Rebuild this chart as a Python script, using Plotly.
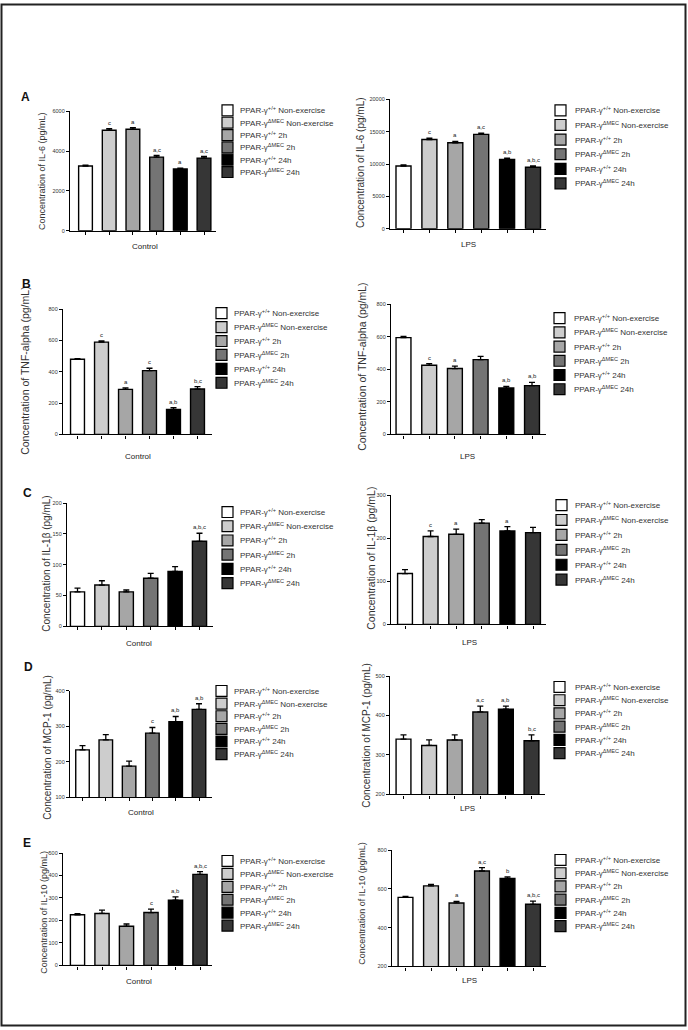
import plotly.graph_objects as go

W, H = 688, 1030

# ---------------- data ----------------
categories = ["+/+ Non-exercise", "ΔMEC Non-exercise", "+/+ 2h", "ΔMEC 2h", "+/+ 24h", "ΔMEC 24h"]
legend_labels = [
    "PPAR-γ<sup>+/+</sup> Non-exercise",
    "PPAR-γ<sup>ΔMEC</sup> Non-exercise",
    "PPAR-γ<sup>+/+</sup> 2h",
    "PPAR-γ<sup>ΔMEC</sup> 2h",
    "PPAR-γ<sup>+/+</sup> 24h",
    "PPAR-γ<sup>ΔMEC</sup> 24h",
]
bar_colors = ["#ffffff", "#cdcdcd", "#a6a6a6", "#747474", "#000000", "#363636"]

il6_ctrl = [3250, 5050, 5100, 3700, 3100, 3650]
il6_ctrl_err = [40, 80, 80, 80, 40, 80]
il6_ctrl_sig = ["", "c", "a", "a,c", "a", "a,c"]
il6_lps = [9700, 13800, 13300, 14600, 10700, 9500]
il6_lps_err = [150, 200, 200, 200, 200, 200]
il6_lps_sig = ["", "c", "a", "a,c", "a,b", "a,b,c"]

tnf_ctrl = [480, 590, 288, 408, 160, 290]
tnf_ctrl_err = [5, 8, 10, 15, 12, 15]
tnf_ctrl_sig = ["", "c", "a", "c", "a,b", "b,c"]
tnf_lps = [595, 425, 405, 460, 285, 300]
tnf_lps_err = [8, 10, 15, 20, 10, 20]
tnf_lps_sig = ["", "c", "a", "", "a,b", "a,b"]

il1b_ctrl = [56, 67, 56, 78, 89, 138]
il1b_ctrl_err = [6, 7, 3, 8, 8, 13]
il1b_ctrl_sig = ["", "", "", "", "", "a,b,c"]
il1b_lps = [118, 204, 209, 235, 217, 213]
il1b_lps_err = [9, 13, 12, 8, 10, 12]
il1b_lps_sig = ["", "c", "a", "", "a", ""]

mcp1_ctrl = [234, 262, 188, 281, 313, 348]
mcp1_ctrl_err = [12, 15, 14, 16, 15, 16]
mcp1_ctrl_sig = ["", "", "", "c", "a,b", "a,b"]
mcp1_lps = [340, 324, 338, 409, 416, 336]
mcp1_lps_err = [11, 14, 13, 15, 8, 15]
mcp1_lps_sig = ["", "", "", "a,c", "a,b", "b,c"]

il10_ctrl = [225, 231, 174, 235, 290, 405]
il10_ctrl_err = [5, 15, 10, 15, 15, 12]
il10_ctrl_sig = ["", "", "", "c", "a,b", "a,b,c"]
il10_lps = [556, 615, 527, 692, 654, 520]
il10_lps_err = [5, 8, 8, 17, 8, 17]
il10_lps_sig = ["", "", "a", "a,c", "b", "a,b,c"]

panel_letters = ["A", "B", "C", "D", "E"]
y_titles = [
    "Concentration of IL-6 (pg/mL)",
    "Concentration of TNF-alpha (pg/mL)",
    "Concentration of IL-1β (pg/mL)",
    "Concentration of MCP-1 (pg/mL)",
    "Concentration of IL-10 (pg/mL)",
]

# ---------------- panel layout (pixels) ----------------
panels = [
    dict(v=il6_ctrl, e=il6_ctrl_err, s=il6_ctrl_sig, row=0, grp="Control", yr=[0, 6000], dt=2000,
         axL=70, axR=216, c0=85.5, c5=204, yt=109, yb=229, tx=42, ty=169, tf=9,
         lx=222, ly0=108, lsp=12.4, ltx=238, gy=245),
    dict(v=il6_lps, e=il6_lps_err, s=il6_lps_sig, row=0, grp="LPS", yr=[0, 20000], dt=5000,
         axL=390, axR=546, c0=403.5, c5=533, yt=97, yb=227, tx=360, ty=161, tf=10,
         lx=555, ly0=108, lsp=14.7, ltx=573, gy=243),
    dict(v=tnf_ctrl, e=tnf_ctrl_err, s=tnf_ctrl_sig, row=1, grp="Control", yr=[0, 800], dt=200,
         axL=63, axR=212, c0=77.5, c5=197.5, yt=308, yb=434, tx=25, ty=370, tf=10.5,
         lx=216, ly0=312, lsp=14, ltx=232, gy=456),
    dict(v=tnf_lps, e=tnf_lps_err, s=tnf_lps_sig, row=1, grp="LPS", yr=[0, 800], dt=200,
         axL=391, axR=546, c0=403.5, c5=532, yt=303, yb=434, tx=362, ty=366, tf=10.5,
         lx=554, ly0=317, lsp=14.3, ltx=572, gy=456),
    dict(v=il1b_ctrl, e=il1b_ctrl_err, s=il1b_ctrl_sig, row=2, grp="Control", yr=[0, 200], dt=50,
         axL=67, axR=213, c0=77.5, c5=199.5, yt=503, yb=627, tx=47, ty=564, tf=10,
         lx=222, ly0=512, lsp=14.3, ltx=238, gy=644),
    dict(v=il1b_lps, e=il1b_lps_err, s=il1b_lps_sig, row=2, grp="LPS", yr=[0, 300], dt=100,
         axL=391, axR=546, c0=405, c5=533, yt=495, yb=625, tx=371, ty=559, tf=10.5,
         lx=556, ly0=505, lsp=15, ltx=573, gy=643),
    dict(v=mcp1_ctrl, e=mcp1_ctrl_err, s=mcp1_ctrl_sig, row=3, grp="Control", yr=[100, 400], dt=100,
         axL=70, axR=212, c0=82.5, c5=199, yt=692, yb=799, tx=48, ty=749, tf=10,
         lx=216, ly0=692, lsp=12.7, ltx=232, gy=814),
    dict(v=mcp1_lps, e=mcp1_lps_err, s=mcp1_lps_sig, row=3, grp="LPS", yr=[200, 500], dt=100,
         axL=390, axR=545, c0=403.5, c5=531.5, yt=677, yb=796, tx=367, ty=736, tf=10,
         lx=554, ly0=688, lsp=13.3, ltx=573, gy=810),
    dict(v=il10_ctrl, e=il10_ctrl_err, s=il10_ctrl_sig, row=4, grp="Control", yr=[0, 500], dt=100,
         axL=63, axR=212, c0=77.5, c5=200, yt=855, yb=968, tx=44, ty=915, tf=9,
         lx=222, ly0=863, lsp=13, ltx=238, gy=984),
    dict(v=il10_lps, e=il10_lps_err, s=il10_lps_sig, row=4, grp="LPS", yr=[200, 800], dt=200,
         axL=392, axR=546, c0=405.5, c5=533, yt=852, yb=969, tx=362, ty=906, tf=9,
         lx=555, ly0=862, lsp=13.3, ltx=573, gy=983),
]
letter_pos = [(25, 95), (26, 283), (27, 493), (28, 668), (27, 845)]

FONT = "Liberation Sans, Arial, sans-serif"
fig = go.Figure()
annotations = []
shapes = []
layout_axes = {}

def px(x):
    return x / W

def py(y):
    return 1 - y / H

for i, p in enumerate(panels):
    n = "" if i == 0 else str(i + 1)
    xref, yref = "x" + n, "y" + n
    s = (p["c5"] - p["c0"]) / 5.0
    xr = [(p["axL"] - p["c0"]) / s, (p["axR"] - p["c0"]) / s]
    fig.add_trace(go.Bar(
        x=categories, y=p["v"], xaxis=xref, yaxis=yref, width=0.58,
        marker=dict(color=bar_colors, line=dict(color="black", width=1.4)),
        error_y=dict(type="data", array=p["e"], arrayminus=[0] * 6, symmetric=False,
                     color="black", thickness=1.3, width=3),
        showlegend=False,
    ))
    layout_axes["xaxis" + n] = dict(
        domain=[px(p["axL"]), px(p["axR"])], anchor=yref, range=xr, type="category",
        showline=True, linecolor="black", linewidth=1.3, ticks="outside", ticklen=3,
        tickwidth=1, tickcolor="black", showticklabels=False, showgrid=False, zeroline=False,
        fixedrange=True,
    )
    layout_axes["yaxis" + n] = dict(
        domain=[py(p["yb"]), py(p["yt"])], anchor=xref, range=p["yr"], tick0=p["yr"][0],
        dtick=p["dt"], tickformat="d", showline=True, linecolor="black", linewidth=1.3,
        ticks="outside", ticklen=3, tickwidth=1, tickcolor="black",
        tickfont=dict(size=5.5, color="#333", family=FONT),
        showgrid=False, zeroline=False, fixedrange=True,
    )
    # significance letters
    for c, val, err, lab in zip(categories, p["v"], p["e"], p["s"]):
        if lab:
            annotations.append(dict(x=c, y=val + err, xref=xref, yref=yref, text=lab,
                                    showarrow=False, yanchor="bottom", yshift=1,
                                    font=dict(size=6, color="#222", family=FONT)))
    # y title
    annotations.append(dict(x=px(p["tx"]), y=py(p["ty"]), xref="paper", yref="paper",
                            text=y_titles[p["row"]], textangle=-90, showarrow=False,
                            xanchor="center", yanchor="middle",
                            font=dict(size=p["tf"], color="#333", family=FONT)))
    # group label
    annotations.append(dict(x=px((p["c0"] + p["c5"]) / 2), y=py(p["gy"]), xref="paper",
                            yref="paper", text=p["grp"], showarrow=False,
                            xanchor="center", yanchor="middle",
                            font=dict(size=8, color="#222", family=FONT)))
    # manual legend
    for k, (lab, col) in enumerate(zip(legend_labels, bar_colors)):
        yc = p["ly0"] + k * p["lsp"]
        shapes.append(dict(type="rect", xref="paper", yref="paper",
                           x0=px(p["lx"]), x1=px(p["lx"] + 11),
                           y0=py(yc + 5.5), y1=py(yc - 5.5),
                           fillcolor=col, line=dict(color="black", width=1.2)))
        annotations.append(dict(x=px(p["ltx"]), y=py(yc), xref="paper", yref="paper",
                                text=lab, showarrow=False, xanchor="left", yanchor="middle",
                                font=dict(size=8, color="#333", family=FONT)))

for letter, (lx, ly) in zip(panel_letters, letter_pos):
    annotations.append(dict(x=px(lx), y=py(ly), xref="paper", yref="paper", text="<b>" + letter + "</b>",
                            showarrow=False, xanchor="center", yanchor="middle",
                            font=dict(size=12, color="#111", family=FONT)))

# outer frame
shapes.append(dict(type="rect", xref="paper", yref="paper", x0=px(1.5), x1=px(685.5),
                   y0=py(1028.5), y1=py(1.5), line=dict(color="#222", width=2)))

fig.update_layout(
    width=W, height=H, margin=dict(l=0, r=0, t=0, b=0),
    paper_bgcolor="white", plot_bgcolor="white", bargap=0.4,
    font=dict(family=FONT, color="#222"),
    annotations=annotations, shapes=shapes, showlegend=False,
    **layout_axes,
)

fig.write_html("out.html", config={"displayModeBar": False},
               post_script="document.body.style.margin='0px';document.body.style.overflow='hidden';")
